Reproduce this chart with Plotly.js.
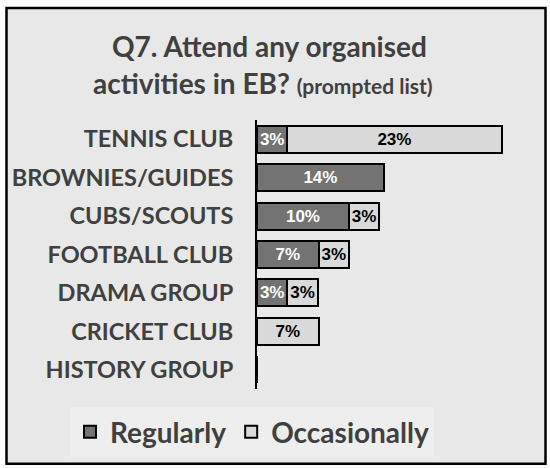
<!DOCTYPE html>
<html>
<head>
<meta charset="utf-8">
<script src="https://cdn.plot.ly/plotly-3.0.1.min.js"></script>
<style>
html,body{margin:0;padding:0;background:#ffffff;}
#chart{width:550px;height:468px;}
</style>
</head>
<body>
<div id="chart"></div>
<script>
// ---- data ----
var categories = ["TENNIS CLUB","BROWNIES/GUIDES","CUBS/SCOUTS","FOOTBALL CLUB","DRAMA GROUP","CRICKET CLUB","HISTORY GROUP"];
var regularly    = [3.3, 13.8, 10.0, 6.7, 3.3, 0, 0];
var occasionally = [23.3, 0, 3.3, 3.3, 3.3, 6.7, 0];
var seriesNames = ["Regularly","Occasionally"];
var titleLine1 = "Q7. Attend any organised";
var titleLine2 = "activities in EB?";
var titleNote = "(prompted list)";

// ---- layout geometry (pixels) ----
var W = 550, H = 468;
var mL = 257, mR = 20, mT = 120, mB = 78;
var pw = W - mL - mR, ph = H - mT - mB;
function px2x(px){ return (px - mL) / pw; }
function py2y(py){ return 1 - (py - mT) / ph; }

function labels(arr){ return arr.map(function(v){ return v > 0 ? Math.round(v) + "%" : ""; }); }

var traces = [
  {
    type: "bar", orientation: "h", name: seriesNames[0],
    y: categories, x: regularly,
    marker: {color: "#737373", line: {color: "#000000", width: 2}},
    text: labels(regularly), textposition: "inside", insidetextanchor: "middle",
    textfont: {family: "Liberation Sans, Arial, sans-serif", size: 17, color: "#ffffff", weight: "bold"},
    constraintext: "none", cliponaxis: false, hoverinfo: "skip"
  },
  {
    type: "bar", orientation: "h", name: seriesNames[1],
    y: categories, x: occasionally,
    marker: {color: "#d9d9d9", line: {color: "#000000", width: 2}},
    text: labels(occasionally), textposition: "inside", insidetextanchor: "middle",
    textfont: {family: "Liberation Sans, Arial, sans-serif", size: 17, color: "#000000", weight: "bold"},
    constraintext: "none", cliponaxis: false, hoverinfo: "skip"
  }
];

var titleFont = {family: "Lato, sans-serif", size: 28, color: "#404040", weight: "bold"};

var layout = {
  width: W, height: H,
  margin: {l: mL, r: mR, t: mT, b: mB, pad: 0},
  paper_bgcolor: "#ffffff",
  plot_bgcolor: "rgba(0,0,0,0)",
  barmode: "stack",
  bargap: 0.3,
  xaxis: {
    range: [0, 29.7], visible: false, fixedrange: true
  },
  yaxis: {
    type: "category", autorange: "reversed",
    showline: true, linecolor: "#000000", linewidth: 2,
    showgrid: false, zeroline: false, ticks: "",
    ticklabelstandoff: 17,
    tickfont: {family: "Lato, sans-serif", size: 23.5, color: "#404040", weight: "bold"},
    fixedrange: true
  },
  showlegend: true,
  legend: {
    orientation: "h",
    xref: "paper", x: px2x(70), xanchor: "left",
    yref: "paper", y: py2y(407), yanchor: "top",
    bgcolor: "#eeeeee",
    font: {family: "Lato, sans-serif", size: 28, color: "#404040", weight: "bold"},
    itemwidth: 30,
    traceorder: "normal"
  },
  annotations: [
    {
      xref: "paper", yref: "paper", x: px2x(269), y: py2y(46), xanchor: "center", yanchor: "middle",
      text: titleLine1, showarrow: false, font: titleFont
    },
    {
      xref: "paper", yref: "paper", x: px2x(263), y: py2y(83), xanchor: "center", yanchor: "middle",
      text: titleLine2 + " <span style='font-size:21px'>" + titleNote + "</span>", showarrow: false, font: titleFont
    }
  ],
  shapes: [
    {
      type: "rect", xref: "paper", yref: "paper", layer: "below",
      x0: px2x(6.5), x1: px2x(545.5), y0: py2y(465), y1: py2y(7.5),
      fillcolor: "#e8e8e8", line: {color: "#000000", width: 2.5}
    }
  ]
};

Plotly.newPlot("chart", traces, layout, {displayModeBar: false, staticPlot: true});
</script>
</body>
</html>
